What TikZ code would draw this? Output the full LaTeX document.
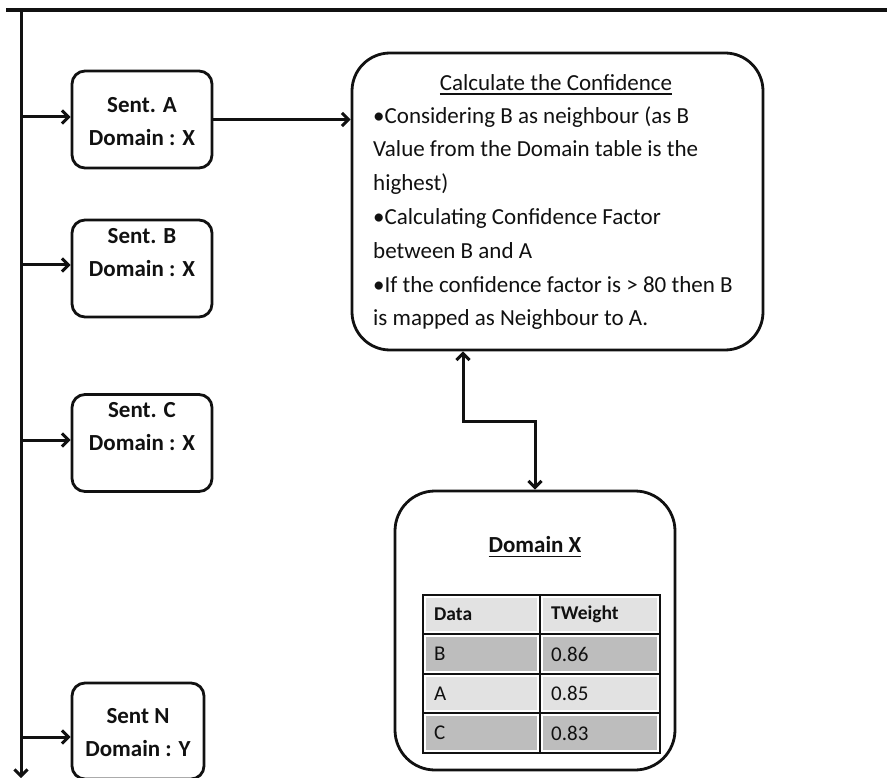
\documentclass[tikz,border=0pt]{standalone}
\usepackage{fontspec}
\setmainfont{Carlito}
\usetikzlibrary{arrows.meta}

\definecolor{ink}{HTML}{111111}
\definecolor{cellLight}{HTML}{E2E2E2}
\definecolor{cellDark}{HTML}{BDBDBD}

% underline with a heavier rule
\newcommand\ulthick[1]{\setbox0\hbox{#1}\rlap{\copy0}\rule[-4.5pt]{\wd0}{1.8pt}}

\tikzset{
  wire/.style={draw=ink, line width=3pt},
  conn/.style={wire, -{Straight Barb[length=6.5pt,width=13pt]}},
  twoway/.style={wire, {Straight Barb[length=6.5pt,width=13pt]}-{Straight Barb[length=6.5pt,width=13pt]}},
  sentbox/.style={draw=ink, line width=2.8pt, rounded corners=13pt, inner sep=0pt,
                  minimum width=140pt, minimum height=97pt},
  bigbox/.style={draw=ink, line width=2.8pt, inner sep=0pt},
  senttext/.style={font=\bfseries\fontsize{23}{33}\selectfont, align=center, text=ink, inner sep=0pt},
  bodytext/.style={font=\fontsize{23}{33.8}\selectfont, align=left, text=ink, inner sep=0pt},
  cell/.style={draw=white, line width=1.4pt, inner sep=0pt, anchor=center},
  celltext/.style={text=ink, inner sep=0pt, anchor=west},
  gridline/.style={draw=ink, line width=2.2pt}
}

\begin{document}
\begin{tikzpicture}[x=1pt,y=-1pt]
\useasboundingbox (0,0) rectangle (887,778);
\fill[white] (0,0) rectangle (887,778);

% frame: top rule and the vertical trunk
\coordinate (topL) at (6,10);
\coordinate (topR) at (887,10);
\coordinate (trunkTop) at (21,10);
\coordinate (trunkEnd) at (21,778);
\draw[wire, line width=3.8pt] (topL) -- (topR);
\draw[conn] (trunkTop) -- (trunkEnd);

% sentence boxes
\node[sentbox] (sA) at (142,119.5) {};
\node[sentbox] (sB) at (142,268.5) {};
\node[sentbox] (sC) at (142,443) {};
\node[sentbox, minimum width=132pt, minimum height=96pt] (sN) at (138,731) {};

\node[senttext] (sAt) at (142,121.5) {Sent. A\\Domain : X};
\node[senttext] (sBt) at (142,253) {Sent. B\\Domain : X};
\node[senttext] (sCt) at (142,426.5) {Sent. C\\Domain : X};
\node[senttext] (sNt) at (138,732.5) {Sent N\\Domain : Y};

% branches from the trunk
\coordinate (bA) at (21,117);
\coordinate (bB) at (21,265);
\coordinate (bC) at (21,440);
\coordinate (bN) at (21,737);
\draw[conn] (bA) -- (bA -| sA.west);
\draw[conn] (bB) -- (bB -| sB.west);
\draw[conn] (bC) -- (bC -| sC.west);
\draw[conn] (bN) -- (bN -| sN.west);

% confidence box
\node[bigbox, rounded corners=38pt, minimum width=411pt, minimum height=297pt] (conf) at (557.5,201.5) {};
\node[bodytext] (confT) at (556,85) {\ulthick{Calculate the Confidence}};
\node[bodytext, anchor=north west] (confB) at (373,106) {%
•Considering B as neighbour (as B\\
Value from the Domain table is the\\
highest)\\
•Calculating Confidence Factor\\
between B and A\\
•If the confidence factor is > 80 then B\\
is mapped as Neighbour to A.};

\draw[conn] (sA.east) -- (sA.east -| conf.west);

% domain box with its table
\node[bigbox, rounded corners=40pt, minimum width=280pt, minimum height=279pt] (dom) at (535,630.5) {};
\node[senttext] (domT) at (535,547) {\ulthick{Domain X}};

\foreach \r/\top/\bot/\shade/\a/\b/\fw in {
    0/595/634/cellLight/Data/TWeight/\bfseries\fontsize{19.5}{22},
    1/634/674/cellDark/B/0.86/\fontsize{21}{24},
    2/674/713/cellLight/A/0.85/\fontsize{21}{24},
    3/713/753/cellDark/C/0.83/\fontsize{21}{24}}{
  \node[cell, fill=\shade, minimum width=113pt, minimum height={\bot-\top-4}]
    (c\r a) at (481.5,{(\top+\bot)/2}) {};
  \node[cell, fill=\shade, minimum width=116pt, minimum height={\bot-\top-4}]
    (c\r b) at (600,{(\top+\bot)/2}) {};
  \node[celltext, font=\fw\selectfont] (t\r a) at (434,{(\top+\bot)/2}) {\a};
  \node[celltext, font=\fw\selectfont] (t\r b) at (551,{(\top+\bot)/2}) {\b};
}
\draw[gridline] (423,595) rectangle (660,753);
\draw[gridline] (540,595) -- (540,753);
\foreach \y in {634,674,713}{
  \draw[gridline] (423,\y) -- (660,\y);
}

% link between the confidence box and the domain box
\coordinate (k1) at (463,421);
\coordinate (k2) at (535,421);
\draw[twoway] (k1 |- conf.south) -- (k1) -- (k2) -- (k2 |- dom.north);
\end{tikzpicture}
\end{document}
